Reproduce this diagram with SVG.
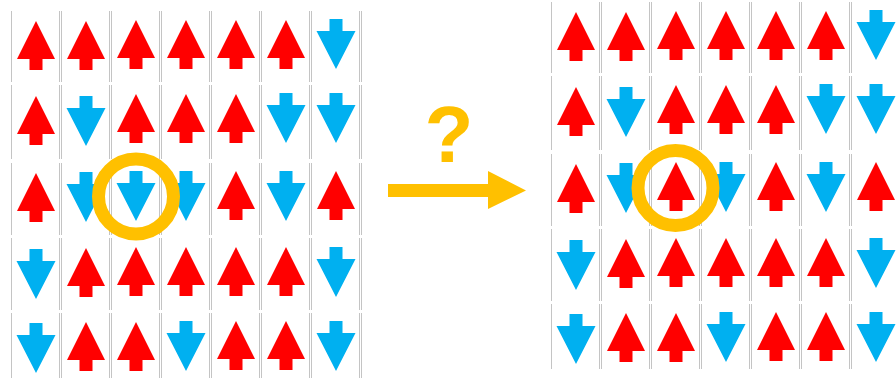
<svg xmlns="http://www.w3.org/2000/svg" xmlns:xlink="http://www.w3.org/1999/xlink" width="896" height="381" viewBox="0 0 896 381">
<style>
.up{fill:#FF0000}
.dn{fill:#00B0F0}
.gl{stroke:#c4c4c4;stroke-width:1;fill:none}
.ring{fill:none;stroke:#FFC000;stroke-width:13}
.q{font-family:"Liberation Sans",Arial,sans-serif;font-weight:bold;font-size:80px;fill:#FFC000}
</style>
<defs>
<path id="up" class="up" d="M0,0 L19,38 L6.5,38 L6.5,49 L-6.5,49 L-6.5,38 L-19,38 Z"/>
<path id="dn" class="dn" d="M-6.5,0 H6.5 V12 H19.5 L0,50 L-19.5,12 H-6.5 Z"/>
<g id="lines">
<path class="gl" d="M11.5,11V82M59.5,11V82M61.5,11V82M109.5,11V82M111.5,11V82M159.5,11V82M161.5,11V82M209.5,11V82M211.5,11V82M259.5,11V82M261.5,11V82M309.5,11V82M311.5,11V82M359.5,11V82M361.5,11V82"/>
<path class="gl" d="M11.5,85V159M59.5,85V159M61.5,85V159M109.5,85V159M111.5,85V159M159.5,85V159M161.5,85V159M209.5,85V159M211.5,85V159M259.5,85V159M261.5,85V159M309.5,85V159M311.5,85V159M359.5,85V159M361.5,85V159"/>
<path class="gl" d="M11.5,163V235M59.5,163V235M61.5,163V235M109.5,163V235M111.5,163V235M159.5,163V235M161.5,163V235M209.5,163V235M211.5,163V235M259.5,163V235M261.5,163V235M309.5,163V235M311.5,163V235M359.5,163V235M361.5,163V235"/>
<path class="gl" d="M11.5,238V310M59.5,238V310M61.5,238V310M109.5,238V310M111.5,238V310M159.5,238V310M161.5,238V310M209.5,238V310M211.5,238V310M259.5,238V310M261.5,238V310M309.5,238V310M311.5,238V310M359.5,238V310M361.5,238V310"/>
<path class="gl" d="M11.5,313V378M59.5,313V378M61.5,313V378M109.5,313V378M111.5,313V378M159.5,313V378M161.5,313V378M209.5,313V378M211.5,313V378M259.5,313V378M261.5,313V378M309.5,313V378M311.5,313V378M359.5,313V378M361.5,313V378"/>
</g>
</defs>

<g id="grid-before">
<use href="#lines"/>
<g id="before-row1">
<use href="#up" x="36" y="21"/><use href="#up" x="86" y="21"/><use href="#up" x="136" y="20"/><use href="#up" x="186" y="20"/><use href="#up" x="236" y="20"/><use href="#up" x="286" y="20"/><use href="#dn" x="336" y="19"/>
</g>
<g id="before-row2">
<use href="#up" x="36" y="96"/><use href="#dn" x="86" y="96"/><use href="#up" x="136" y="94"/><use href="#up" x="186" y="94"/><use href="#up" x="236" y="94"/><use href="#dn" x="286" y="93"/><use href="#dn" x="336" y="93"/>
</g>
<g id="before-row3">
<use href="#up" x="36" y="173"/><use href="#dn" x="86" y="172"/><use href="#dn" x="136" y="171"/><use href="#dn" x="186" y="171"/><use href="#up" x="236" y="171"/><use href="#dn" x="286" y="171"/><use href="#up" x="336" y="171"/>
</g>
<g id="before-row4">
<use href="#dn" x="36" y="249"/><use href="#up" x="86" y="248"/><use href="#up" x="136" y="247"/><use href="#up" x="186" y="247"/><use href="#up" x="236" y="247"/><use href="#up" x="286" y="247"/><use href="#dn" x="336" y="247"/>
</g>
<g id="before-row5">
<use href="#dn" x="36" y="323"/><use href="#up" x="86" y="322"/><use href="#up" x="136" y="322"/><use href="#dn" x="186" y="321"/><use href="#up" x="236" y="321"/><use href="#up" x="286" y="321"/><use href="#dn" x="336" y="321"/>
</g>
<circle id="ring-before" class="ring" cx="136" cy="196.5" r="37.5"/>
</g>

<g id="transition">
<text class="q" x="449" y="162" text-anchor="middle">?</text>
<path d="M388,184 H488 V171 L526,190.5 L488,209 V197 H388 Z" fill="#FFC000"/>
</g>

<g id="grid-after" transform="translate(540,-9)">
<use href="#lines"/>
<g id="after-row1">
<use href="#up" x="36" y="21"/><use href="#up" x="86" y="21"/><use href="#up" x="136" y="20"/><use href="#up" x="186" y="20"/><use href="#up" x="236" y="20"/><use href="#up" x="286" y="20"/><use href="#dn" x="336" y="19"/>
</g>
<g id="after-row2">
<use href="#up" x="36" y="96"/><use href="#dn" x="86" y="96"/><use href="#up" x="136" y="94"/><use href="#up" x="186" y="94"/><use href="#up" x="236" y="94"/><use href="#dn" x="286" y="93"/><use href="#dn" x="336" y="93"/>
</g>
<g id="after-row3">
<use href="#up" x="36" y="173"/><use href="#dn" x="86" y="172"/><use href="#up" x="136" y="171"/><use href="#dn" x="186" y="171"/><use href="#up" x="236" y="171"/><use href="#dn" x="286" y="171"/><use href="#up" x="336" y="171"/>
</g>
<g id="after-row4">
<use href="#dn" x="36" y="249"/><use href="#up" x="86" y="248"/><use href="#up" x="136" y="247"/><use href="#up" x="186" y="247"/><use href="#up" x="236" y="247"/><use href="#up" x="286" y="247"/><use href="#dn" x="336" y="247"/>
</g>
<g id="after-row5">
<use href="#dn" x="36" y="323"/><use href="#up" x="86" y="322"/><use href="#up" x="136" y="322"/><use href="#dn" x="186" y="321"/><use href="#up" x="236" y="321"/><use href="#up" x="286" y="321"/><use href="#dn" x="336" y="321"/>
</g>
<circle id="ring-after" class="ring" cx="135.5" cy="197" r="37.5"/>
</g>
</svg>
